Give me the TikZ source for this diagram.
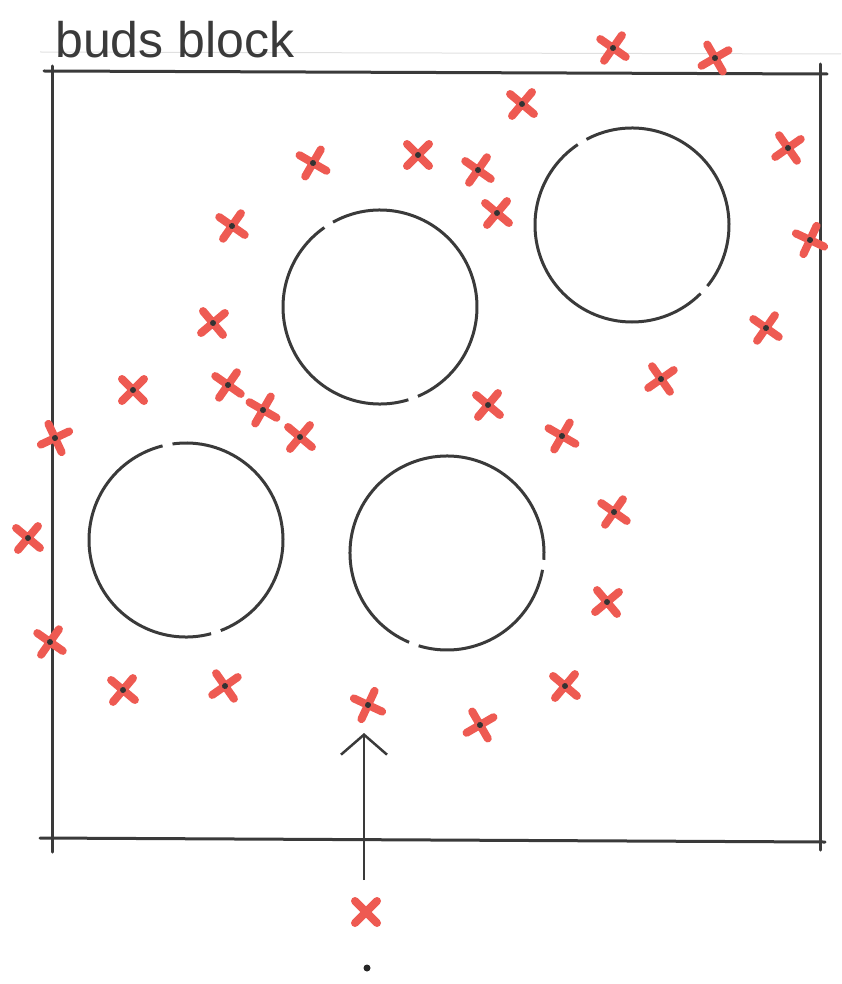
\documentclass[tikz,border=0pt]{standalone}
\usepackage{fontspec}
\setmainfont{Liberation Sans}
\usetikzlibrary{arrows.meta}
\definecolor{Ink}{HTML}{3A3A3A}
\definecolor{Bud}{HTML}{EE5A52}

\begin{document}
\begin{tikzpicture}[x=1pt,y=-1pt,
    frame/.style={line width=3pt,color=Ink,line cap=round},
    ring/.style={line width=3pt,color=Ink},
    bud/.pic={
      \draw[Bud,line width=8pt,line cap=round] (-11,-11)--(11,11) (-11,11)--(11,-11);
      \fill[black!80] (0,0) circle (3);
    },
    budplain/.pic={
      \draw[Bud,line width=8pt,line cap=round] (-11,-11)--(11,11) (-11,11)--(11,-11);
    },
    arr/.style={-{Straight Barb[length=20pt,width=46pt,line width=2.5pt]},line width=2.5pt,color=Ink}
  ]
  \useasboundingbox (0,0) rectangle (841,984);
  % faint paper rule
  \draw[black!12,line width=1pt] (40,52) -- (841,54);
  % title
  \node[anchor=base west,inner sep=0pt,font=\fontsize{50}{50}\selectfont,text=Ink] (title) at (55,58) {buds block};
  % block outline
  \draw[frame] (44,71) -- (827,74);
  \draw[frame] (40,838) -- (825,842);
  \draw[frame] (52,66) -- (52,852);
  \draw[frame] (820,64) -- (820,850);
  % circles, each with two small gaps
  \foreach \cx/\cy/\ga/\gb in {380/307/-122/70, 632/225/-121/42, 186/540/-101/72, 447/553/-250/7}{
    \draw[ring] (\cx,\cy) ++(\ga+3:97) arc[start angle=\ga+3,end angle=\gb-3,radius=97];
    \draw[ring] (\cx,\cy) ++(\gb+3:97) arc[start angle=\gb+3,end angle=\ga+357,radius=97];
  }
  % buds
  \foreach \bx/\by/\br [count=\i] in {613/48/10, 715/58/-15, 522/104/5, 313/163/15, 418/155/0,
      478/170/10, 788/148/-10, 497/213/5, 232/226/10, 810/240/20, 213/323/-5, 766/328/10,
      133/390/0, 228/385/10, 263/410/15, 300/437/5, 661/379/-10, 488/405/5, 562/436/15,
      55/438/-20, 28/538/5, 614/512/10, 607/602/-5, 50/642/10, 123/690/5, 225/686/-10,
      368/705/20, 565/686/5, 480/725/-15}{
    \pic[rotate=\br] (b\i) at (\bx,\by) {bud};
  }
  \pic (newbud) at (366,912) {budplain};
  \fill[black!85] (367,968) circle (3.5);
  % growth arrow
  \coordinate (tail) at (364,880);
  \coordinate (head) at (364,733);
  \draw[arr] (tail) -- (head);
\end{tikzpicture}
\end{document}
